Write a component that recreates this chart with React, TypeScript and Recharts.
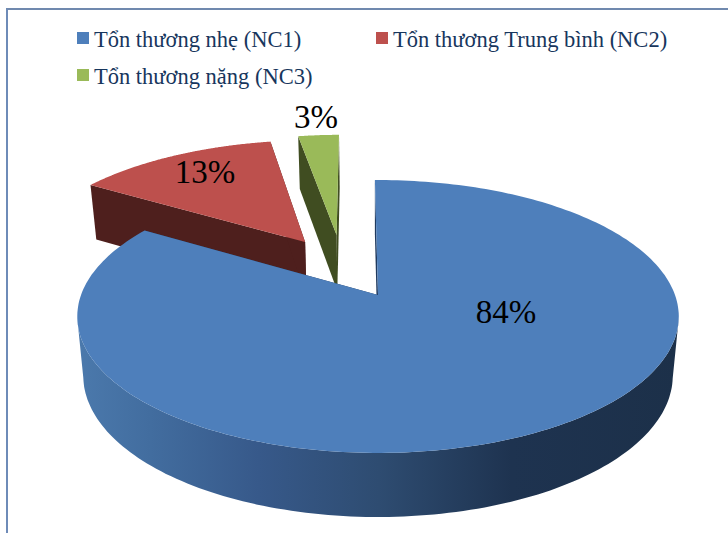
import { Legend, Pie, PieChart } from "recharts";

const CATEGORIES = [
  "Tổn thương nhẹ (NC1)",
  "Tổn thương Trung bình (NC2)",
  "Tổn thương nặng (NC3)",
];
// shares, the labels show them rounded
const VALUES = [84, 13.3, 2.7];
const TOP_COLORS = ["#4e7fbb", "#bd504d", "#9aba59"];
const WALL_COLORS = ["#1f3a5f", "#4e1f1d", "#404d21"];

const WIDTH = 728;
const HEIGHT = 533;
const FONT = '"Liberation Serif", "Times New Roman", serif';

// pseudo 3D: the flat pie circle goes through a perspective projection
const TILT_TOP = 0.448;
const TILT_BOTTOM = 0.464;
const SHRINK_BOTTOM = 0.98;
const DROP = 58.4;
const PERSPECTIVE = 0.1575;
const FIRST_SLICE_ANGLE = 90.7;

// explode offsets per slice, in pie radius units
const EXPLODE = [
  [0, 0],
  [-0.262, 0.425],
  [-0.15, 0.486],
];
const LABEL_POS = [
  [506, 323],
  [205, 183],
  [316, 128],
];
const LEGEND_POS = [
  [77, 26],
  [376, 26],
  [77, 62.5],
];

// draw red and green first so the big blue slice sits over their walls
const DRAW_ORDER = [1, 2, 0];
const pieData = DRAW_ORDER.map((i) => ({
  name: CATEGORIES[i],
  value: VALUES[i],
  slice: i,
}));
const startAngle = FIRST_SLICE_ANGLE - (VALUES[0] / 100) * 360;

function project(
  u: number,
  v: number,
  cx: number,
  cy: number,
  radius: number,
  bottom: boolean,
) {
  const d = 1 + PERSPECTIVE * v;
  const a = bottom ? radius * SHRINK_BOTTOM : radius;
  const b = radius * (bottom ? TILT_BOTTOM : TILT_TOP);
  return [cx + (a * u) / d, cy + (bottom ? DROP : 0) - (b * v) / d];
}

function toPath(points: number[][]) {
  return (
    points
      .map((p, i) => `${i === 0 ? "M" : "L"}${p[0].toFixed(1)} ${p[1].toFixed(1)}`)
      .join(" ") + " Z"
  );
}

function Slice3D(props: any) {
  const { cx, cy, outerRadius, startAngle: a0, endAngle: a1, payload } = props;
  const slice: number = payload?.slice ?? props.slice ?? 0;
  const [ox, oy] = EXPLODE[slice];

  const at = (deg: number, r: number, bottom: boolean) => {
    const t = (deg * Math.PI) / 180;
    return project(
      ox + r * Math.cos(t),
      oy + r * Math.sin(t),
      cx,
      cy,
      outerRadius,
      bottom,
    );
  };

  const steps = 240;
  const angles = Array.from(
    { length: steps + 1 },
    (_, i) => a0 + ((a1 - a0) * i) / steps,
  );
  const topArc = angles.map((a) => at(a, 1, false));
  const topApex = at(0, 0, false);
  const bottomApex = at(0, 0, true);
  const topEnd = topArc[steps];
  const bottomStart = at(a0, 1, true);
  const bottomEnd = at(a1, 1, true);

  // only the camera facing part of the rim, the back is hidden by the top face
  const rimAngles = angles.filter(
    (a) => oy + Math.sin((a * Math.PI) / 180) < -PERSPECTIVE,
  );
  const rim = [
    ...rimAngles.map((a) => at(a, 1, false)),
    ...rimAngles
      .slice()
      .reverse()
      .map((a) => at(a, 1, true)),
  ];

  const gradientId = `wall-${slice}`;

  return (
    <g>
      <defs>
        <linearGradient
          id={gradientId}
          gradientUnits="userSpaceOnUse"
          x1={78}
          y1={0}
          x2={680}
          y2={0}
        >
          <stop offset="0" stopColor="#4b79ac" />
          <stop offset="0.12" stopColor="#426d9f" />
          <stop offset="0.3" stopColor="#37598a" />
          <stop offset="0.5" stopColor="#2e4c71" />
          <stop offset="0.72" stopColor="#1e3350" />
          <stop offset="1" stopColor="#1c3049" />
        </linearGradient>
      </defs>
      <path
        d={toPath([topApex, topArc[0], bottomStart, bottomApex])}
        fill={WALL_COLORS[slice]}
      />
      <path
        d={toPath([topApex, topEnd, bottomEnd, bottomApex])}
        fill={WALL_COLORS[slice]}
      />
      {rim.length > 0 && <path d={toPath(rim)} fill={`url(#${gradientId})`} />}
      <path d={toPath([topApex, ...topArc])} fill={TOP_COLORS[slice]} />
    </g>
  );
}

function renderLabel(props: any) {
  const slice: number = props.payload?.slice ?? props.slice ?? 0;
  const [x, y] = LABEL_POS[slice];
  return (
    <text
      x={x}
      y={y}
      textAnchor="middle"
      fontFamily={FONT}
      fontSize={33}
      fill="#000000"
    >
      {`${Math.round(VALUES[slice])}%`}
    </text>
  );
}

function ChartLegend() {
  return (
    <div style={{ position: "relative", width: WIDTH, height: 100 }}>
      {CATEGORIES.map((name, i) => (
        <div
          key={name}
          style={{
            position: "absolute",
            left: LEGEND_POS[i][0],
            top: LEGEND_POS[i][1],
            height: 24,
            display: "flex",
            alignItems: "center",
            whiteSpace: "nowrap",
            fontFamily: FONT,
            fontSize: 22.5,
            color: "#17365d",
          }}
        >
          <span
            style={{
              width: 12,
              height: 12,
              marginRight: 5,
              background: TOP_COLORS[i],
            }}
          />
          <span style={{ position: "relative", top: 2 }}>{name}</span>
        </div>
      ))}
    </div>
  );
}

export default function App() {
  return (
    <div
      style={{
        position: "fixed",
        left: 0,
        top: 0,
        width: WIDTH,
        height: HEIGHT,
        background: "#ffffff",
        overflow: "hidden",
      }}
    >
      <div
        style={{
          position: "absolute",
          left: 6,
          top: 8,
          right: 0,
          bottom: 0,
          borderTop: "2px solid #7089ae",
          borderLeft: "2px solid #6e8bb8",
        }}
      />
      <div style={{ position: "absolute", left: 0, top: 0 }}>
        <PieChart
          width={WIDTH}
          height={HEIGHT}
          margin={{ top: 0, right: 0, bottom: 0, left: 0 }}
        >
          <Legend
            content={<ChartLegend />}
            wrapperStyle={{ left: 0, top: 0, width: WIDTH }}
          />
          <Pie
            data={pieData}
            dataKey="value"
            nameKey="name"
            cx={378}
            cy={295}
            innerRadius={0}
            outerRadius={297}
            startAngle={startAngle}
            endAngle={startAngle - 360}
            stroke="none"
            shape={Slice3D}
            label={renderLabel}
            labelLine={false}
            isAnimationActive={false}
          />
        </PieChart>
      </div>
    </div>
  );
}
